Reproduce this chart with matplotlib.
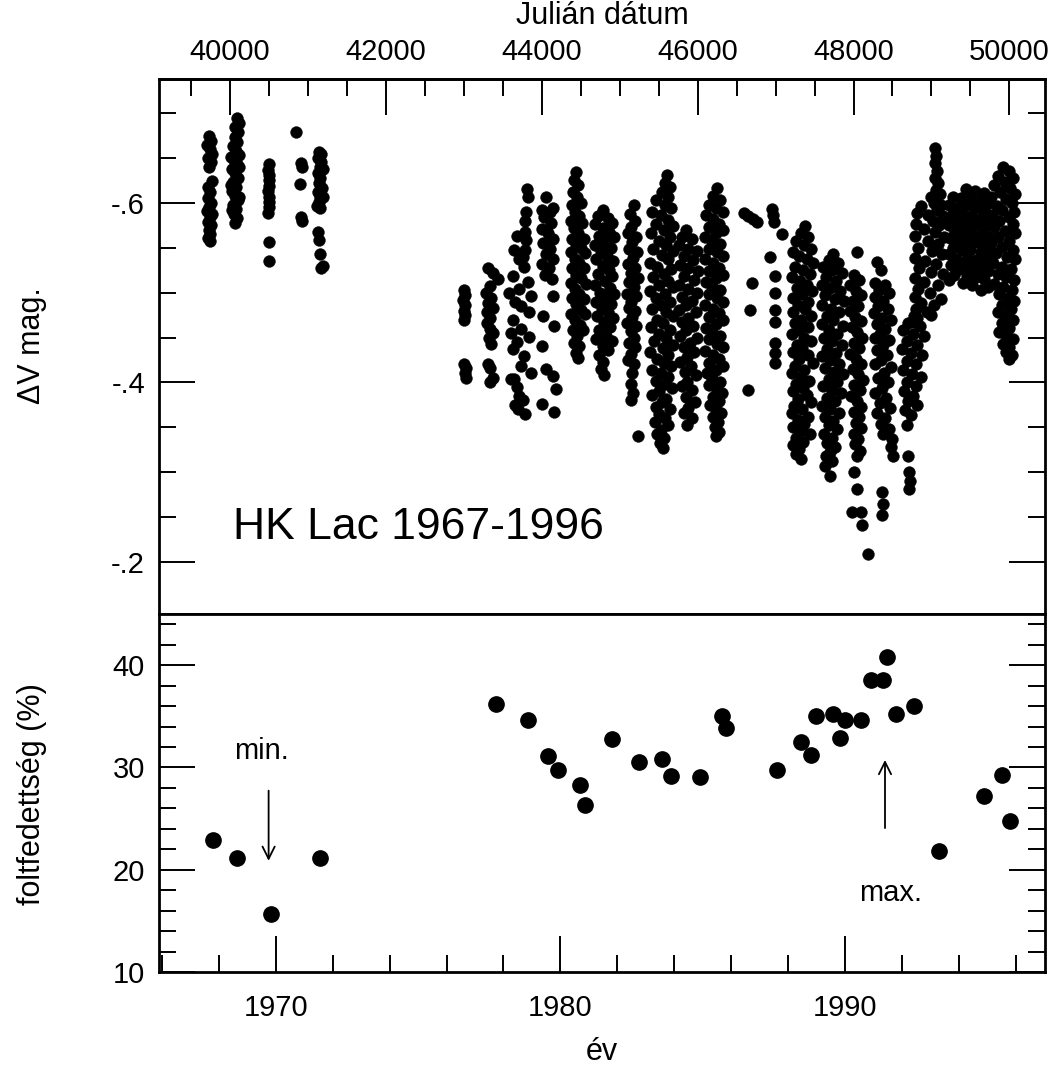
import matplotlib
matplotlib.use("Agg")
import matplotlib.pyplot as plt
from matplotlib.ticker import MultipleLocator, FixedLocator, FuncFormatter

plt.rcParams['font.family'] = ['Liberation Sans', 'DejaVu Sans']

# HK Lac differential V light curve: (JD-2400000, delta V mag)
dv_1967_1971 = [
    (39730, -.674), (39760, -.669), (39710, -.665), (39745, -.660), (39775, -.655),
    (39720, -.650), (39755, -.645), (39735, -.640), (39765, -.624), (39725, -.618),
    (39750, -.612), (39720, -.605), (39760, -.600), (39735, -.595), (39705, -.591),
    (39770, -.588), (39740, -.584), (39715, -.579), (39760, -.575), (39730, -.570),
    (39750, -.565), (39720, -.561), (39745, -.557),
    (40090, -.695), (40110, -.689), (40070, -.684), (40100, -.679), (40060, -.673),
    (40090, -.668), (40040, -.663), (40080, -.658), (40110, -.653), (40050, -.648),
    (40085, -.643), (40030, -.638), (40070, -.633), (40100, -.628), (40045, -.623),
    (40080, -.618), (40030, -.613), (40065, -.608), (40100, -.603), (40040, -.598),
    (40075, -.593), (40050, -.588), (40085, -.583), (40060, -.578), (40020, -.651),
    (40120, -.640), (40010, -.620), (40115, -.606), (40030, -.592),
    (40500, -.643), (40490, -.637), (40505, -.631), (40495, -.625), (40500, -.619),
    (40490, -.613), (40505, -.607), (40495, -.601), (40500, -.595), (40490, -.589),
    (40500, -.556), (40495, -.535),
    (40853, -.679), (40915, -.644), (40930, -.640), (40905, -.621), (40915, -.584),
    (40930, -.580),
    (41140, -.657), (41170, -.655), (41130, -.650), (41165, -.645), (41150, -.640),
    (41200, -.638), (41130, -.633), (41160, -.628), (41140, -.622), (41175, -.617),
    (41130, -.612), (41160, -.607), (41195, -.606), (41140, -.601), (41120, -.597),
    (41150, -.594), (41135, -.567), (41140, -.559), (41160, -.543), (41170, -.527),
    (41190, -.530),
]

dv_1976_1981 = [
    (43000, -.503), (43015, -.497), (42995, -.492), (43010, -.486), (43000, -.480),
    (43020, -.475), (43005, -.470), (43000, -.421), (43025, -.416), (43010, -.410),
    (43030, -.405),
    (43310, -.528), (43370, -.522), (43440, -.515), (43330, -.507), (43290, -.500),
    (43350, -.494), (43310, -.488), (43380, -.483), (43300, -.478), (43340, -.472),
    (43300, -.466), (43330, -.460), (43370, -.455), (43320, -.449), (43350, -.443),
    (43310, -.421), (43340, -.416), (43330, -.401), (43380, -.405),
    (43810, -.615), (43820, -.606), (43800, -.590), (43790, -.580), (43780, -.567),
    (43800, -.559), (43790, -.548),
    (43686, -.563), (43640, -.548), (43703, -.537), (43767, -.529), (43626, -.518),
    (43818, -.512), (43703, -.504), (43857, -.496), (43728, -.485), (43831, -.478),
    (43626, -.470), (43728, -.459), (43831, -.451), (43626, -.437), (43767, -.429),
    (43728, -.418), (43857, -.411), (43640, -.404), (43703, -.385), (43600, -.404),
    (43680, -.395), (43760, -.380), (43700, -.370), (43780, -.365), (43660, -.375),
    (43600, -.455), (43660, -.490), (43580, -.500), (43760, -.540), (43680, -.445),
    (44060, -.607), (44000, -.592), (44100, -.590), (44150, -.594), (44030, -.584),
    (44120, -.578), (44000, -.571), (44080, -.566), (44150, -.560), (44020, -.555),
    (44100, -.549), (44050, -.543), (44140, -.537), (44000, -.532), (44090, -.527),
    (44040, -.520), (44130, -.515), (44150, -.496), (44020, -.474), (44160, -.463),
    (44000, -.441), (44060, -.415), (44150, -.407), (44180, -.393), (44000, -.376),
    (44160, -.367),
    (44440, -.634), (44420, -.625), (44470, -.620), (44400, -.612), (44450, -.606),
    (44500, -.600), (44390, -.598), (44430, -.590), (44480, -.585), (44380, -.580),
    (44520, -.578), (44420, -.572), (44470, -.566), (44390, -.560), (44540, -.560),
    (44440, -.554), (44500, -.550), (44380, -.545), (44560, -.544), (44430, -.538),
    (44480, -.533), (44390, -.528), (44540, -.527), (44440, -.520), (44500, -.516),
    (44380, -.511), (44570, -.510), (44430, -.504), (44480, -.499), (44390, -.494),
    (44540, -.493), (44440, -.487), (44500, -.481), (44380, -.476), (44560, -.476),
    (44430, -.470), (44490, -.464), (44400, -.458), (44530, -.458), (44450, -.452),
    (44420, -.444), (44480, -.440), (44440, -.433), (44460, -.427),
]

dv_1981_1985 = [
    (44780, -.592), (44720, -.585), (44850, -.583), (44900, -.578), (44680, -.576),
    (44790, -.572), (44860, -.567), (44730, -.563), (44930, -.562), (44810, -.557),
    (44680, -.553), (44890, -.550), (44760, -.546), (44840, -.541), (44700, -.537),
    (44920, -.535), (44790, -.530), (44860, -.525), (44720, -.521), (44900, -.518),
    (44810, -.513), (44680, -.509), (44870, -.505), (44750, -.500), (44930, -.498),
    (44820, -.494), (44700, -.490), (44890, -.487), (44770, -.483), (44850, -.478),
    (44710, -.474), (44920, -.472), (44800, -.467), (44870, -.462), (44740, -.458),
    (44830, -.452), (44700, -.448), (44900, -.446), (44780, -.441), (44850, -.436),
    (44730, -.430), (44790, -.423), (44760, -.415), (44800, -.408),
    (45180, -.598), (45130, -.588), (45200, -.580), (45150, -.573), (45110, -.566),
    (45210, -.562), (45160, -.556), (45120, -.549), (45220, -.545), (45170, -.539),
    (45110, -.532), (45200, -.528), (45150, -.522), (45230, -.516), (45120, -.512),
    (45180, -.506), (45100, -.499), (45210, -.496), (45150, -.490), (45120, -.483),
    (45200, -.479), (45160, -.473), (45100, -.466), (45210, -.463), (45140, -.457),
    (45180, -.450), (45120, -.444), (45200, -.439), (45150, -.432), (45110, -.425),
    (45180, -.420), (45160, -.410), (45140, -.398), (45170, -.388), (45150, -.380),
    (45240, -.340),
    (45610, -.631), (45580, -.622), (45650, -.618), (45540, -.612), (45620, -.607),
    (45470, -.603), (45580, -.598), (45660, -.594), (45420, -.590), (45530, -.586),
    (45620, -.581), (45460, -.577), (45690, -.574), (45570, -.570), (45400, -.566),
    (45640, -.562), (45500, -.558), (45600, -.553), (45430, -.549), (45680, -.546),
    (45540, -.542), (45620, -.537), (45390, -.533), (45480, -.529), (45660, -.526),
    (45570, -.521), (45430, -.517), (45620, -.513), (45510, -.509), (45690, -.506),
    (45390, -.502), (45580, -.498), (45460, -.494), (45640, -.490), (45530, -.486),
    (45410, -.482), (45600, -.478), (45680, -.474), (45480, -.470), (45560, -.466),
    (45400, -.462), (45640, -.458), (45510, -.454), (45600, -.450), (45440, -.446),
    (45680, -.442), (45550, -.438), (45390, -.434), (45620, -.430), (45480, -.426),
    (45570, -.422), (45660, -.418), (45420, -.414), (45530, -.410), (45620, -.406),
    (45460, -.402), (45580, -.398), (45670, -.394), (45500, -.390), (45410, -.386),
    (45600, -.382), (45540, -.378), (45460, -.373), (45640, -.370), (45510, -.365),
    (45580, -.360), (45450, -.356), (45620, -.352), (45530, -.347), (45480, -.342),
    (45570, -.338), (45520, -.333), (45550, -.327),
    (45850, -.570), (45800, -.562), (45930, -.560), (45760, -.553), (45880, -.549),
    (45990, -.546), (45820, -.541), (45940, -.536), (45770, -.531), (45880, -.527),
    (46010, -.524), (45820, -.518), (45950, -.514), (45760, -.509), (45880, -.504),
    (45990, -.500), (45800, -.495), (45930, -.491), (45850, -.486), (45760, -.481),
    (45980, -.478), (45880, -.472), (45800, -.467), (45940, -.463), (45850, -.458),
    (45770, -.452), (45990, -.450), (45900, -.444), (45820, -.439), (45950, -.434),
    (45860, -.428), (45780, -.423), (45920, -.418), (45840, -.412), (45980, -.408),
    (45870, -.401), (45800, -.396), (45930, -.391), (45850, -.384), (45960, -.378),
    (45880, -.372), (45820, -.366), (45930, -.360), (45860, -.352),
    (46250, -.617), (46200, -.608), (46290, -.603), (46150, -.598), (46240, -.594),
    (46320, -.590), (46110, -.586), (46200, -.582), (46280, -.577), (46140, -.573),
    (46330, -.570), (46230, -.566), (46100, -.562), (46190, -.558), (46290, -.554),
    (46140, -.549), (46250, -.545), (46320, -.541), (46100, -.537), (46200, -.533),
    (46280, -.528), (46150, -.524), (46330, -.520), (46230, -.516), (46110, -.512),
    (46190, -.507), (46290, -.503), (46140, -.499), (46250, -.494), (46320, -.490),
    (46100, -.486), (46200, -.482), (46280, -.477), (46150, -.473), (46330, -.469),
    (46230, -.465), (46110, -.461), (46190, -.456), (46290, -.452), (46140, -.448),
    (46250, -.443), (46320, -.439), (46100, -.435), (46200, -.431), (46280, -.426),
    (46150, -.422), (46320, -.418), (46230, -.414), (46120, -.410), (46190, -.405),
    (46290, -.401), (46150, -.397), (46250, -.392), (46310, -.388), (46200, -.384),
    (46270, -.379), (46160, -.375), (46240, -.370), (46300, -.366), (46200, -.361),
    (46260, -.356), (46220, -.350), (46280, -.345), (46240, -.340),
]

dv_1986_1989 = [
    (46590, -.589), (46650, -.585), (46710, -.582), (46765, -.579), (46700, -.511),
    (46677, -.481), (46652, -.392),
    (46959, -.593), (46965, -.586), (46975, -.579), (47087, -.565), (46933, -.540),
    (46995, -.518), (46998, -.500), (46998, -.481), (46998, -.467), (46995, -.444),
    (46998, -.433), (46998, -.422),
    (47380, -.574), (47330, -.566), (47420, -.562), (47260, -.558), (47360, -.553),
    (47450, -.549), (47220, -.545), (47300, -.541), (47400, -.537), (47480, -.533),
    (47250, -.529), (47350, -.525), (47440, -.521), (47210, -.517), (47310, -.513),
    (47400, -.509), (47270, -.505), (47470, -.502), (47340, -.498), (47220, -.494),
    (47420, -.490), (47290, -.486), (47380, -.482), (47230, -.478), (47460, -.474),
    (47330, -.470), (47250, -.466), (47410, -.462), (47300, -.458), (47210, -.454),
    (47370, -.450), (47450, -.446), (47270, -.442), (47340, -.438), (47220, -.434),
    (47410, -.430), (47300, -.426), (47480, -.422), (47250, -.418), (47370, -.414),
    (47210, -.410), (47320, -.406), (47430, -.402), (47260, -.398), (47350, -.394),
    (47220, -.390), (47400, -.386), (47290, -.382), (47460, -.378), (47240, -.374),
    (47340, -.370), (47210, -.366), (47410, -.362), (47290, -.358), (47370, -.354),
    (47230, -.350), (47320, -.346), (47440, -.342), (47260, -.338), (47350, -.334),
    (47220, -.330), (47300, -.326), (47260, -.320), (47330, -.315),
    (47740, -.543), (47680, -.536), (47800, -.533), (47610, -.529), (47720, -.525),
    (47850, -.522), (47650, -.517), (47770, -.513), (47590, -.509), (47700, -.505),
    (47830, -.502), (47640, -.497), (47760, -.493), (47880, -.491), (47600, -.486),
    (47710, -.482), (47820, -.478), (47660, -.474), (47740, -.469), (47590, -.465),
    (47870, -.463), (47690, -.458), (47790, -.454), (47620, -.450), (47730, -.446),
    (47850, -.442), (47660, -.437), (47770, -.433), (47600, -.429), (47700, -.425),
    (47820, -.421), (47640, -.416), (47750, -.412), (47870, -.409), (47680, -.404),
    (47790, -.400), (47610, -.396), (47720, -.392), (47840, -.388), (47660, -.383),
    (47760, -.379), (47600, -.374), (47700, -.370), (47810, -.366), (47640, -.361),
    (47740, -.357), (47680, -.352), (47790, -.348), (47620, -.343), (47720, -.338),
    (47660, -.333), (47760, -.328), (47700, -.323), (47650, -.318), (47730, -.312),
    (47640, -.307), (47700, -.296),
]

dv_1990_1996 = [
    (48050, -.545), (48000, -.520), (48070, -.514), (47960, -.508), (48030, -.502),
    (48100, -.497), (47990, -.491), (48060, -.485), (47950, -.479), (48020, -.473),
    (48090, -.468), (47980, -.462), (48050, -.456), (48110, -.450), (48000, -.444),
    (48070, -.438), (47960, -.432), (48030, -.426), (48100, -.421), (47990, -.415),
    (48060, -.409), (48120, -.403), (48010, -.397), (48080, -.391), (47970, -.385),
    (48040, -.379), (48100, -.373), (48000, -.367), (48070, -.361), (48030, -.355),
    (48090, -.349), (48000, -.343), (48060, -.337), (48020, -.331), (48080, -.324),
    (48040, -.318), (48000, -.300), (48050, -.281), (47985, -.256), (48100, -.256),
    (48113, -.241), (48190, -.209),
    (48300, -.534), (48350, -.525), (48270, -.511), (48400, -.509), (48330, -.503),
    (48460, -.500), (48280, -.495), (48380, -.491), (48310, -.485), (48440, -.482),
    (48260, -.477), (48360, -.472), (48480, -.470), (48300, -.465), (48410, -.460),
    (48340, -.454), (48270, -.449), (48460, -.447), (48380, -.442), (48300, -.436),
    (48430, -.431), (48350, -.425), (48270, -.420), (48480, -.417), (48390, -.411),
    (48310, -.405), (48440, -.400), (48360, -.394), (48280, -.388), (48420, -.383),
    (48340, -.377), (48470, -.372), (48300, -.366), (48400, -.360), (48350, -.354),
    (48450, -.348), (48380, -.342), (48500, -.337), (48480, -.328), (48510, -.318),
    (48360, -.278), (48380, -.265), (48370, -.252),
    (48780, -.474), (48700, -.466), (48850, -.463), (48640, -.458), (48760, -.454),
    (48900, -.452), (48690, -.446), (48820, -.442), (48620, -.437), (48740, -.433),
    (48880, -.430), (48680, -.424), (48800, -.420), (48640, -.414), (48750, -.409),
    (48860, -.406), (48690, -.400), (48800, -.396), (48650, -.390), (48760, -.385),
    (48700, -.379), (48820, -.375), (48660, -.369), (48740, -.364), (48690, -.352),
    (48700, -.318), (48710, -.300), (48720, -.290), (48710, -.281),
    (49050, -.661), (49060, -.652), (49040, -.644), (49070, -.636), (49050, -.628),
    (49090, -.622), (49060, -.614), (49110, -.610), (48990, -.606), (49030, -.600),
    (49120, -.598), (48870, -.596), (49070, -.592), (48820, -.589), (48950, -.586),
    (49150, -.585), (49020, -.580), (48800, -.577), (49100, -.575), (48900, -.571),
    (49040, -.567), (48790, -.563), (49160, -.562), (48960, -.558), (49080, -.554),
    (48830, -.550), (49010, -.546), (49140, -.543), (48790, -.539), (48920, -.535),
    (49060, -.532), (48840, -.527), (49000, -.523), (49150, -.521), (48790, -.516),
    (48900, -.512), (49080, -.509), (48830, -.504), (48980, -.500), (48790, -.495),
    (49120, -.493), (48870, -.489), (49030, -.486), (48800, -.482), (48940, -.478),
    (48820, -.472), (48780, -.467), (48990, -.475),
    (49280, -.607), (49230, -.598), (49330, -.594), (49260, -.586), (49350, -.580),
    (49220, -.575), (49300, -.569), (49240, -.561), (49340, -.557), (49270, -.550),
    (49220, -.543), (49320, -.538), (49250, -.531), (49350, -.526), (49290, -.520),
    (49230, -.514),
    (49440, -.615), (49560, -.613), (49680, -.611), (49380, -.605), (49500, -.604),
    (49620, -.602), (49740, -.600), (49430, -.596), (49560, -.594), (49680, -.592),
    (49390, -.586), (49510, -.585), (49630, -.583), (49740, -.581), (49450, -.577),
    (49570, -.575), (49690, -.573), (49380, -.567), (49510, -.566), (49630, -.564),
    (49740, -.562), (49440, -.557), (49570, -.556), (49690, -.554), (49390, -.548),
    (49500, -.547), (49630, -.545), (49740, -.543), (49450, -.538), (49570, -.536),
    (49690, -.534), (49390, -.529), (49510, -.527), (49630, -.526), (49730, -.524),
    (49450, -.519), (49570, -.517), (49680, -.515), (49410, -.511), (49520, -.509),
    (49720, -.506), (49640, -.503),
    (49920, -.640), (49990, -.636), (49860, -.630), (50050, -.628), (49940, -.623),
    (49800, -.620), (50010, -.617), (49880, -.612), (50070, -.610), (49770, -.607),
    (49950, -.604), (50030, -.600), (49840, -.597), (49910, -.592), (50060, -.590),
    (49780, -.587), (49990, -.584), (49870, -.580), (50040, -.576), (49800, -.573),
    (49940, -.569), (50070, -.566), (49850, -.562), (50000, -.558), (49770, -.555),
    (49910, -.551), (50050, -.548), (49830, -.544), (49970, -.540), (50070, -.537),
    (49790, -.533), (49900, -.529), (50020, -.526), (49850, -.521), (49960, -.517),
    (50060, -.514), (49800, -.510), (49920, -.506), (50030, -.503), (49870, -.498),
    (49980, -.494), (50060, -.491), (49910, -.486), (50020, -.482), (49850, -.478),
    (49960, -.474), (50050, -.470), (49900, -.466), (50000, -.461), (49870, -.456),
    (49960, -.452), (50040, -.448), (49920, -.443), (50000, -.439), (49960, -.434),
    (50030, -.430), (49990, -.426),
]

# spot coverage (%) per season
spot_year = [1967.81, 1968.63, 1969.82, 1971.56, 1977.75, 1978.87, 1979.55, 1979.90,
             1980.67, 1980.86, 1981.80, 1982.76, 1983.58, 1983.89, 1984.91, 1985.67,
             1985.83, 1987.61, 1988.45, 1988.80, 1988.96, 1989.58, 1989.82, 1989.99,
             1990.54, 1990.91, 1991.32, 1991.46, 1991.77, 1992.43, 1993.31, 1994.88,
             1995.52, 1995.80]
spot_pct = [22.9, 21.1, 15.7, 21.1, 36.2, 34.6, 31.1, 29.7,
            28.3, 26.3, 32.8, 30.5, 30.8, 29.2, 29.1, 35.0,
            33.9, 29.7, 32.5, 31.2, 35.0, 35.2, 32.9, 34.6,
            34.6, 38.5, 38.5, 40.8, 35.2, 36.0, 21.8, 27.2,
            29.3, 24.8]

jd_ticks = [40000, 42000, 44000, 46000, 48000, 50000]
dv_ticks = [-0.6, -0.4, -0.2]
dv_labels = ['-.6', '-.4', '-.2']
dv_minor = [-0.7, -0.65, -0.55, -0.5, -0.45, -0.35, -0.3, -0.25]
pct_ticks = [10, 20, 30, 40]
year_ticks = [1970, 1980, 1990]


def jd_to_year(jd):
    return 1970.0 + (jd - 40587.5) / 365.25


def year_to_jd(y):
    return 40587.5 + (y - 1970.0) * 365.25


def style_axis(ax, labelsize=21):
    ax.tick_params(which='major', direction='in', length=26, width=1.4,
                   labelsize=labelsize, pad=10)
    ax.tick_params(which='minor', direction='in', length=12.5, width=1.4)
    for s in ax.spines.values():
        s.set_linewidth(2.0)


fig = plt.figure(figsize=(10.61, 10.77), dpi=100)
W, H = 1061, 1077
ax1 = fig.add_axes([159 / W, (H - 614) / H, 886 / W, 535 / H])
ax2 = fig.add_axes([159 / W, (H - 972) / H, 886 / W, 358 / H])

# upper panel: light curve
points = dv_1967_1971 + dv_1976_1981 + dv_1981_1985 + dv_1986_1989 + dv_1990_1996
jd = [p[0] for p in points]
dv = [p[1] for p in points]
ax1.plot([jd_to_year(j) for j in jd], dv, 'o', ms=8.5, color='black', mec='black', mew=0.3)

ax1.set_xlim(1965.9, 1997.02)
ax1.set_ylim(-0.142, -0.738)
style_axis(ax1)
ax1.tick_params(axis='x', which='both', bottom=False, top=False, labelbottom=False)
ax1.tick_params(axis='y', which='both', left=True, right=True)
ax1.yaxis.set_major_locator(FixedLocator(dv_ticks))
ax1.yaxis.set_major_formatter(FuncFormatter(lambda v, p: dv_labels[p] if p is not None and p < 3 else ''))
ax1.yaxis.set_minor_locator(FixedLocator(dv_minor))

sec = ax1.secondary_xaxis('top', functions=(year_to_jd, jd_to_year))
sec.xaxis.set_major_locator(FixedLocator(jd_ticks))
sec.xaxis.set_minor_locator(MultipleLocator(500))
sec.xaxis.set_major_formatter(FuncFormatter(lambda v, p: f'{v:.0f}'))
sec.tick_params(which='major', direction='in', length=26, width=1.4, labelsize=21, pad=9)
sec.tick_params(which='minor', direction='in', length=12.5, width=1.4)
sec.spines['top'].set_linewidth(2.0)

ax1.text(1968.49, -0.225, 'HK Lac 1967-1996', fontsize=32, ha='left', va='baseline')

# lower panel: spot coverage
ax2.plot(spot_year, spot_pct, 'o', ms=11, color='black')
ax2.set_xlim(1965.9, 1997.02)
ax2.set_ylim(10, 45)
style_axis(ax2)
ax2.tick_params(axis='x', which='both', top=False, bottom=True, pad=16)
ax2.tick_params(axis='y', which='both', left=True, right=True)
ax2.xaxis.set_major_locator(FixedLocator(year_ticks))
ax2.xaxis.set_minor_locator(MultipleLocator(2))
ax2.yaxis.set_major_locator(FixedLocator(pct_ticks))
ax2.yaxis.set_minor_locator(MultipleLocator(2))

ax2.annotate('', xy=(1969.75, 20.6), xytext=(1969.75, 28.0),
             arrowprops=dict(arrowstyle='->', lw=1.3, color='black', mutation_scale=22))
ax2.text(1969.5, 31.6, 'min.', fontsize=21, ha='center', va='center')
ax2.annotate('', xy=(1991.4, 31.0), xytext=(1991.4, 23.8),
             arrowprops=dict(arrowstyle='->', lw=1.3, color='black', mutation_scale=22))
ax2.text(1991.58, 17.75, 'max.', fontsize=21, ha='center', va='center')

# axis titles
fig.text(602 / W, 1 - 16 / H, 'Julián dátum', fontsize=22, ha='center', va='center')
fig.text(32 / W, 1 - 346 / H, 'ΔV mag.', fontsize=22, rotation=90, ha='center', va='center')
fig.text(32 / W, 1 - 794 / H, 'foltfedettség (%)', fontsize=22, rotation=90,
         ha='center', va='center')
fig.text(602 / W, 1 - 1052 / H, 'év', fontsize=22, ha='center', va='center')

fig.savefig('out.png', dpi=100)
